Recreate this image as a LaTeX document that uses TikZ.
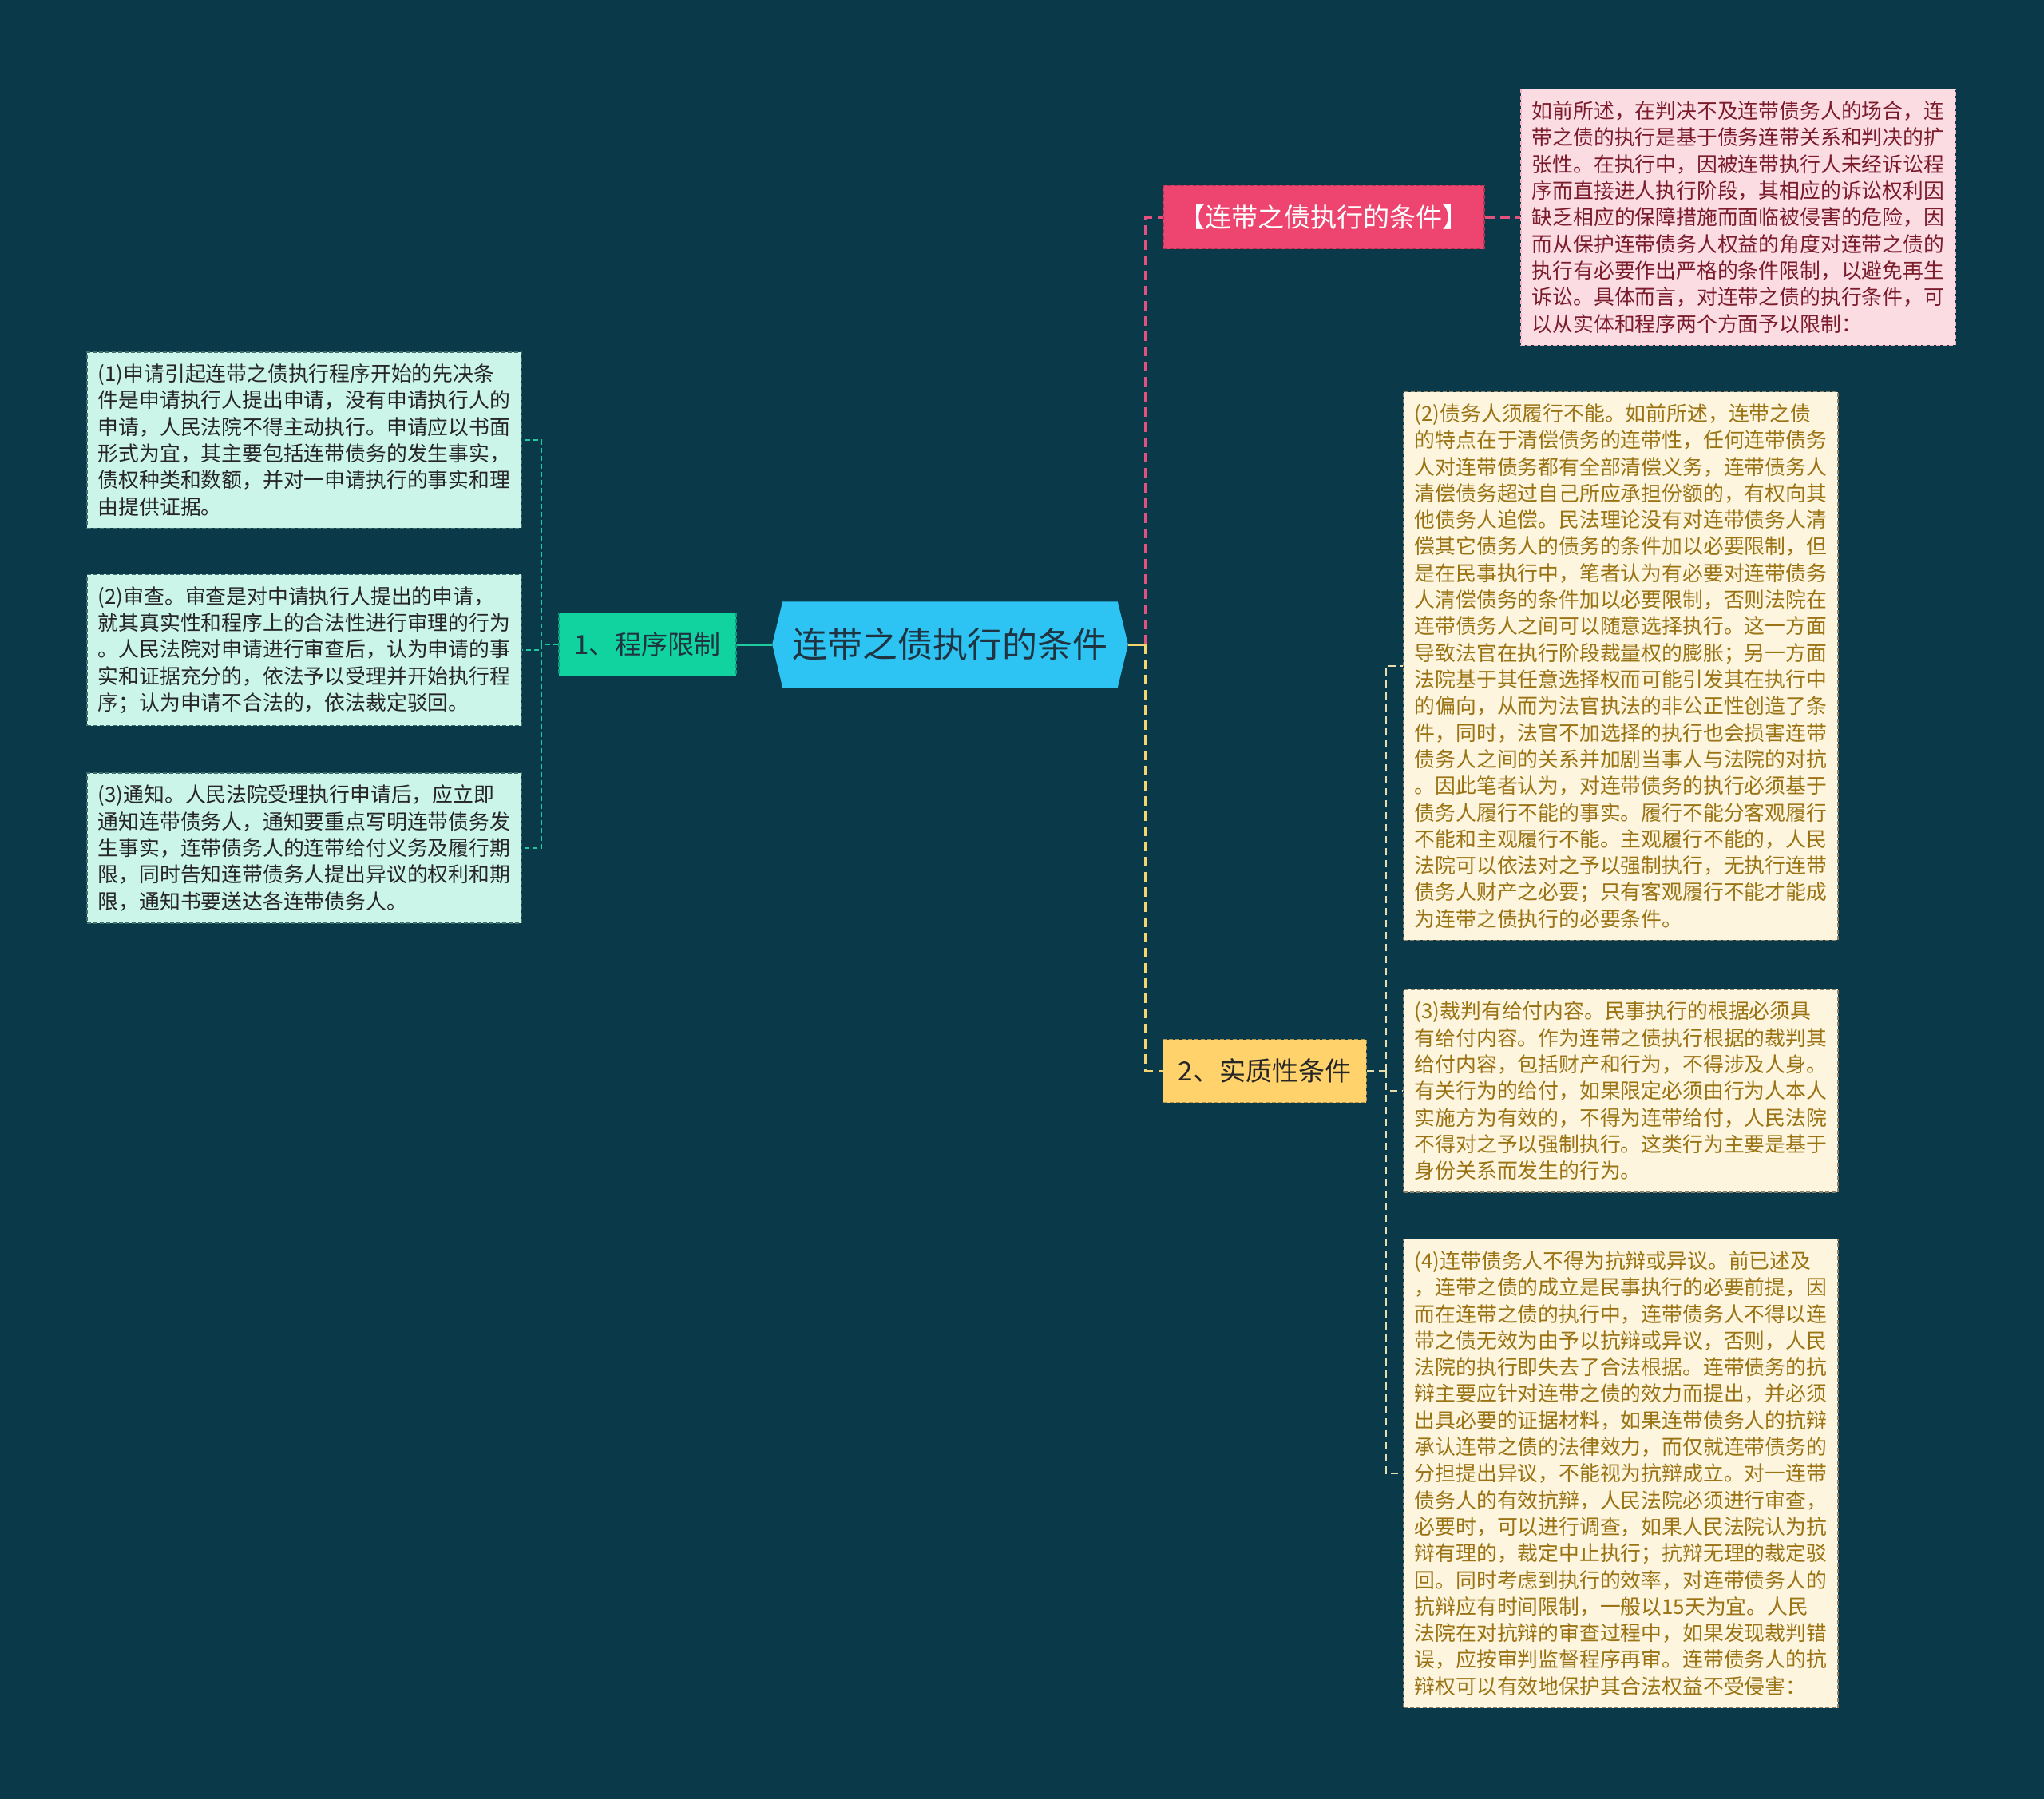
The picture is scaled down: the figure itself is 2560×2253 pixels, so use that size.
\documentclass[tikz,border=0pt]{standalone}
\usepackage{fontspec}
\setmainfont{Noto Sans CJK SC}
\usetikzlibrary{backgrounds}
\definecolor{mapbg}{HTML}{0A3A4A}
\definecolor{hubfill}{HTML}{2DC3F2}
\definecolor{hubtext}{HTML}{1F3340}
\definecolor{progfill}{HTML}{10D3A0}
\definecolor{titlefill}{HTML}{EE4570}
\definecolor{substfill}{HTML}{FFD26B}
\definecolor{mintfill}{HTML}{CCF5EA}
\definecolor{mintedge}{HTML}{3F6F6A}
\definecolor{pinkfill}{HTML}{FCDCE3}
\definecolor{pinktext}{HTML}{7A1C2C}
\definecolor{creamfill}{HTML}{FDF5DE}
\definecolor{creamtext}{HTML}{9A7314}
\definecolor{creamedge}{HTML}{8C8066}
\definecolor{tealline}{HTML}{1FCB9F}
\definecolor{pinkline}{HTML}{E3517C}
\definecolor{yellowline}{HTML}{F6D46E}
\definecolor{creamline}{HTML}{E9DDB0}
\setlength{\parindent}{0pt}

\begin{document}
\begin{tikzpicture}[
  x=0.01cm, y=-0.01cm,
  hub/.style={minimum width=4.18cm, minimum height=1.06cm, inner sep=0pt,
    font=\fontsize{12.5}{15}\selectfont, text=hubtext},
  topic/.style={draw, dash pattern=on 0.05cm off 0.03cm, line width=0.4pt,
    minimum height=0.79cm, inner xsep=0.19cm, inner ysep=0pt,
    font=\fontsize{9.4}{11}\selectfont},
  leaf/.style={draw, dash pattern=on 0.05cm off 0.03cm, line width=0.4pt,
    text width=5.16cm, inner xsep=0.14cm, inner ysep=0.15cm, align=left,
    font=\fontsize{7.34}{9.47}\selectfont},
  leftleaf/.style={leaf, fill=mintfill, draw=mintedge, text=black!85},
  rightleaf/.style={leaf, fill=creamfill, draw=creamedge, text=creamtext},
  introleaf/.style={leaf, fill=pinkfill, draw=pinkfill!70!pinkline, text=pinktext},
  teallink/.style={draw=tealline, line width=0.02cm, dash pattern=on 0.06cm off 0.04cm},
  pinklink/.style={draw=pinkline, line width=0.03cm, dash pattern=on 0.12cm off 0.07cm},
  yellowlink/.style={draw=yellowline, line width=0.03cm, dash pattern=on 0.12cm off 0.07cm},
  creamlink/.style={draw=creamline, line width=0.02cm, dash pattern=on 0.09cm off 0.06cm}
]
\useasboundingbox (0,0) rectangle (2560,2253);

% centre and first level
\node[hub] (hub) at (1190,807) {连带之债执行的条件};
\node[topic, fill=progfill, draw=progfill!75!black, text=hubtext] (prog) at (811,807) {1、程序限制};
\node[topic, fill=titlefill, draw=titlefill!75!black, text=white] (title) at (1658,272) {【连带之债执行的条件】};
\node[topic, fill=substfill, draw=substfill!70!black, text=black!85] (subst) at (1584,1341) {2、实质性条件};

\begin{scope}[on background layer]
  \fill[mapbg] (0,0) rectangle (2560,2253);
  \fill[hubfill] ([xshift=-0.13cm]hub.west) -- (hub.north west) -- (hub.north east)
    -- ([xshift=0.13cm]hub.east) -- (hub.south east) -- (hub.south west) -- cycle;
\end{scope}

% intro
\node[introleaf] (intro) at (2177,272)
  {如前所述，在判决不及连带债务人的场合，连\\
   带之债的执行是基于债务连带关系和判决的扩\\
   张性。在执行中，因被连带执行人未经诉讼程\\
   序而直接进人执行阶段，其相应的诉讼权利因\\
   缺乏相应的保障措施而面临被侵害的危险，因\\
   而从保护连带债务人权益的角度对连带之债的\\
   执行有必要作出严格的条件限制，以避免再生\\
   诉讼。具体而言，对连带之债的执行条件，可\\
   以从实体和程序两个方面予以限制：};

% procedure
\node[leftleaf] (apply) at (381,551)
  {(1)申请引起连带之债执行程序开始的先决条\\
   件是申请执行人提出申请，没有申请执行人的\\
   申请，人民法院不得主动执行。申请应以书面\\
   形式为宜，其主要包括连带债务的发生事实，\\
   债权种类和数额，并对一申请执行的事实和理\\
   由提供证据。};
\node[leftleaf] (review) at (381,814)
  {(2)审查。审查是对中请执行人提出的申请，\\
   就其真实性和程序上的合法性进行审理的行为\\
   。人民法院对申请进行审查后，认为申请的事\\
   实和证据充分的，依法予以受理并开始执行程\\
   序；认为申请不合法的，依法裁定驳回。};
\node[leftleaf] (notice) at (381,1062)
  {(3)通知。人民法院受理执行申请后，应立即\\
   通知连带债务人，通知要重点写明连带债务发\\
   生事实，连带债务人的连带给付义务及履行期\\
   限，同时告知连带债务人提出异议的权利和期\\
   限，通知书要送达各连带债务人。};

% substance
\node[rightleaf] (inability) at (2030,834)
  {(2)债务人须履行不能。如前所述，连带之债\\
   的特点在于清偿债务的连带性，任何连带债务\\
   人对连带债务都有全部清偿义务，连带债务人\\
   清偿债务超过自己所应承担份额的，有权向其\\
   他债务人追偿。民法理论没有对连带债务人清\\
   偿其它债务人的债务的条件加以必要限制，但\\
   是在民事执行中，笔者认为有必要对连带债务\\
   人清偿债务的条件加以必要限制，否则法院在\\
   连带债务人之间可以随意选择执行。这一方面\\
   导致法官在执行阶段裁量权的膨胀；另一方面\\
   法院基于其任意选择权而可能引发其在执行中\\
   的偏向，从而为法官执法的非公正性创造了条\\
   件，同时，法官不加选择的执行也会损害连带\\
   债务人之间的关系并加剧当事人与法院的对抗\\
   。因此笔者认为，对连带债务的执行必须基于\\
   债务人履行不能的事实。履行不能分客观履行\\
   不能和主观履行不能。主观履行不能的，人民\\
   法院可以依法对之予以强制执行，无执行连带\\
   债务人财产之必要；只有客观履行不能才能成\\
   为连带之债执行的必要条件。};
\node[rightleaf] (content) at (2030,1366)
  {(3)裁判有给付内容。民事执行的根据必须具\\
   有给付内容。作为连带之债执行根据的裁判其\\
   给付内容，包括财产和行为，不得涉及人身。\\
   有关行为的给付，如果限定必须由行为人本人\\
   实施方为有效的，不得为连带给付，人民法院\\
   不得对之予以强制执行。这类行为主要是基于\\
   身份关系而发生的行为。};
\node[rightleaf] (defense) at (2030,1845)
  {(4)连带债务人不得为抗辩或异议。前已述及\\
   ，连带之债的成立是民事执行的必要前提，因\\
   而在连带之债的执行中，连带债务人不得以连\\
   带之债无效为由予以抗辩或异议，否则，人民\\
   法院的执行即失去了合法根据。连带债务的抗\\
   辩主要应针对连带之债的效力而提出，并必须\\
   出具必要的证据材料，如果连带债务人的抗辩\\
   承认连带之债的法律效力，而仅就连带债务的\\
   分担提出异议，不能视为抗辩成立。对一连带\\
   债务人的有效抗辩，人民法院必须进行审查，\\
   必要时，可以进行调查，如果人民法院认为抗\\
   辩有理的，裁定中止执行；抗辩无理的裁定驳\\
   回。同时考虑到执行的效率，对连带债务人的\\
   抗辩应有时间限制，一般以15天为宜。人民\\
   法院在对抗辩的审查过程中，如果发现裁判错\\
   误，应按审判监督程序再审。连带债务人的抗\\
   辩权可以有效地保护其合法权益不受侵害：};

% connectors
\coordinate (hubleft) at ([xshift=-0.13cm]hub.west);
\coordinate (hubright) at ([xshift=0.13cm]hub.east);
\coordinate (lbus) at (678,807);
\coordinate (rbus) at (1434,807);
\coordinate (sbus) at (1736,1341);

\draw[draw=tealline, line width=0.03cm] (hubleft) -- (prog.east);
\draw[teallink] (prog.west) -- (lbus);
\draw[teallink] (lbus) |- (apply.east);
\draw[teallink] (lbus) |- (review.east);
\draw[teallink] (lbus) |- (notice.east);

\draw[draw=yellowline, line width=0.03cm] (hubright) -- (rbus);
\draw[pinklink] (rbus) |- (title.west);
\draw[pinklink] (title.east) -- (intro.west);
\draw[yellowlink] (rbus) |- (subst.west);

\draw[creamlink] (subst.east) -- (sbus);
\draw[creamlink] (sbus) |- (inability.west);
\draw[creamlink] (sbus) |- (content.west);
\draw[creamlink] (sbus) |- (defense.west);
\end{tikzpicture}
\end{document}
